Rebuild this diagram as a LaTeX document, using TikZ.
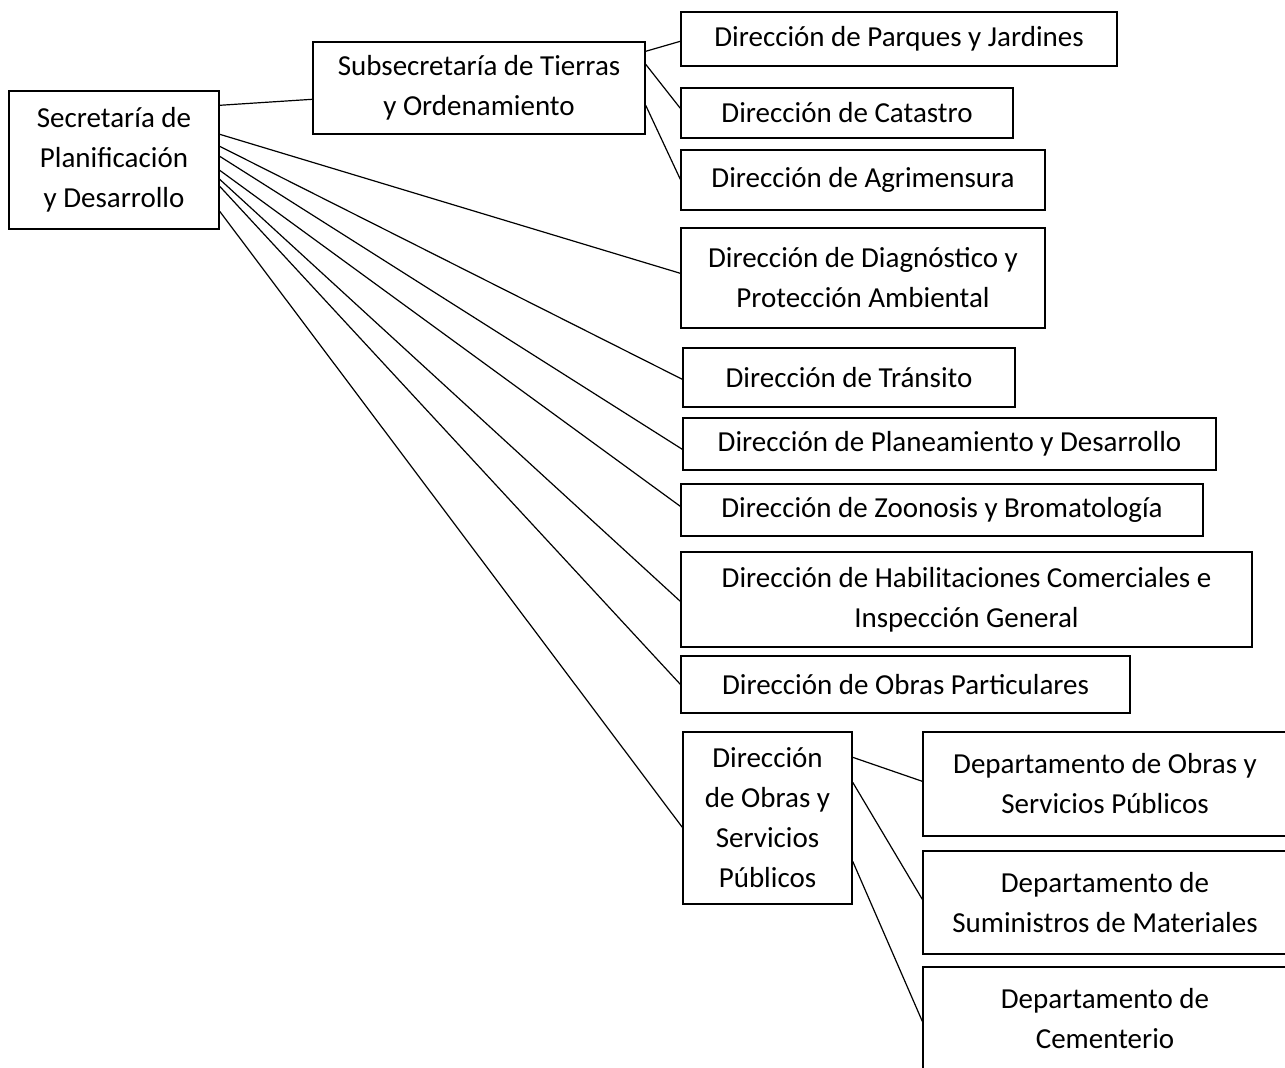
\documentclass[tikz,border=0pt]{standalone}
\usepackage{fontspec}
\setmainfont{Carlito}
\usepackage{tikz}
\usetikzlibrary{positioning}

\begin{document}
\begin{tikzpicture}[x=1pt,y=-1pt,
  every node/.style={draw,line width=1.4pt,align=center,inner sep=0pt,
    font=\fontsize{29}{40}\selectfont},
  linea/.style={line width=1.2pt}]
\clip (0,0) rectangle (1285,1068);
% secretaria y subsecretaria
\node (sec) at (114,160) [minimum width=210,minimum height=138] {Secretaría de\\Planificación\\y Desarrollo};
\node (sub) at (479,88) [minimum width=332,minimum height=92] {Subsecretaría de Tierras\\y Ordenamiento};

\node (t1) at (899,39) [minimum width=436,minimum height=54] {Dirección de Parques y Jardines};
\node (t2) at (847,113) [minimum width=332,minimum height=50] {Dirección de Catastro};
\node (t3) at (863,180) [minimum width=364,minimum height=60] {Dirección de Agrimensura};

% direcciones
\node (d1) at (863,278) [minimum width=364,minimum height=100] {Dirección de Diagnóstico y\\Protección Ambiental};
\node (d2) at (849,377.5) [minimum width=332,minimum height=59] {Dirección de Tránsito};
\node (d3) at (949.5,444) [minimum width=533,minimum height=52] {Dirección de Planeamiento y Desarrollo};
\node (d4) at (942,510) [minimum width=522,minimum height=52] {Dirección de Zoonosis y Bromatología};
\node (d5) at (966.5,599.5) [minimum width=571,minimum height=95] {Dirección de Habilitaciones Comerciales e\\Inspección General};
\node (d6) at (905.5,684.5) [minimum width=449,minimum height=57] {Dirección de Obras Particulares};
\node (d7) at (767.5,818) [minimum width=169,minimum height=172] {Dirección\\de Obras y\\Servicios\\Públicos};

% departamentos
\node (p1) at (1105,784) [minimum width=364,minimum height=104] {Departamento de Obras y\\Servicios Públicos};
\node (p2) at (1105,902.5) [minimum width=364,minimum height=103] {Departamento de\\Suministros de Materiales};
\node (p3) at (1105,1019) [minimum width=364,minimum height=104] {Departamento de\\Cementerio};

\draw[linea] ([yshift=-15pt]sec.north east) -- ([yshift=-58pt]sub.north west);
\draw[linea] ([yshift=-10pt]sub.north east) -- ([yshift=-30pt]t1.north west);
\draw[linea] ([yshift=-23pt]sub.north east) -- ([yshift=-21pt]t2.north west);
\draw[linea] ([yshift=-64pt]sub.north east) -- ([yshift=-30pt]t3.north west);

\draw[linea] ([yshift=-44pt]sec.north east) -- ([yshift=-46pt]d1.north west);
\draw[linea] ([yshift=-56pt]sec.north east) -- ([yshift=-32pt]d2.north west);
\draw[linea] ([yshift=-66pt]sec.north east) -- ([yshift=-32pt]d3.north west);
\draw[linea] ([yshift=-80pt]sec.north east) -- ([yshift=-23pt]d4.north west);
\draw[linea] ([yshift=-89pt]sec.north east) -- ([yshift=-50pt]d5.north west);
\draw[linea] ([yshift=-96pt]sec.north east) -- ([yshift=-29pt]d6.north west);
\draw[linea] ([yshift=-121pt]sec.north east) -- ([yshift=-96pt]d7.north west);

\draw[linea] ([yshift=-26pt]d7.north east) -- ([yshift=-50pt]p1.north west);
\draw[linea] ([yshift=-51pt]d7.north east) -- ([yshift=-49pt]p2.north west);
\draw[linea] ([yshift=-130pt]d7.north east) -- ([yshift=-55pt]p3.north west);
\end{tikzpicture}
\end{document}
